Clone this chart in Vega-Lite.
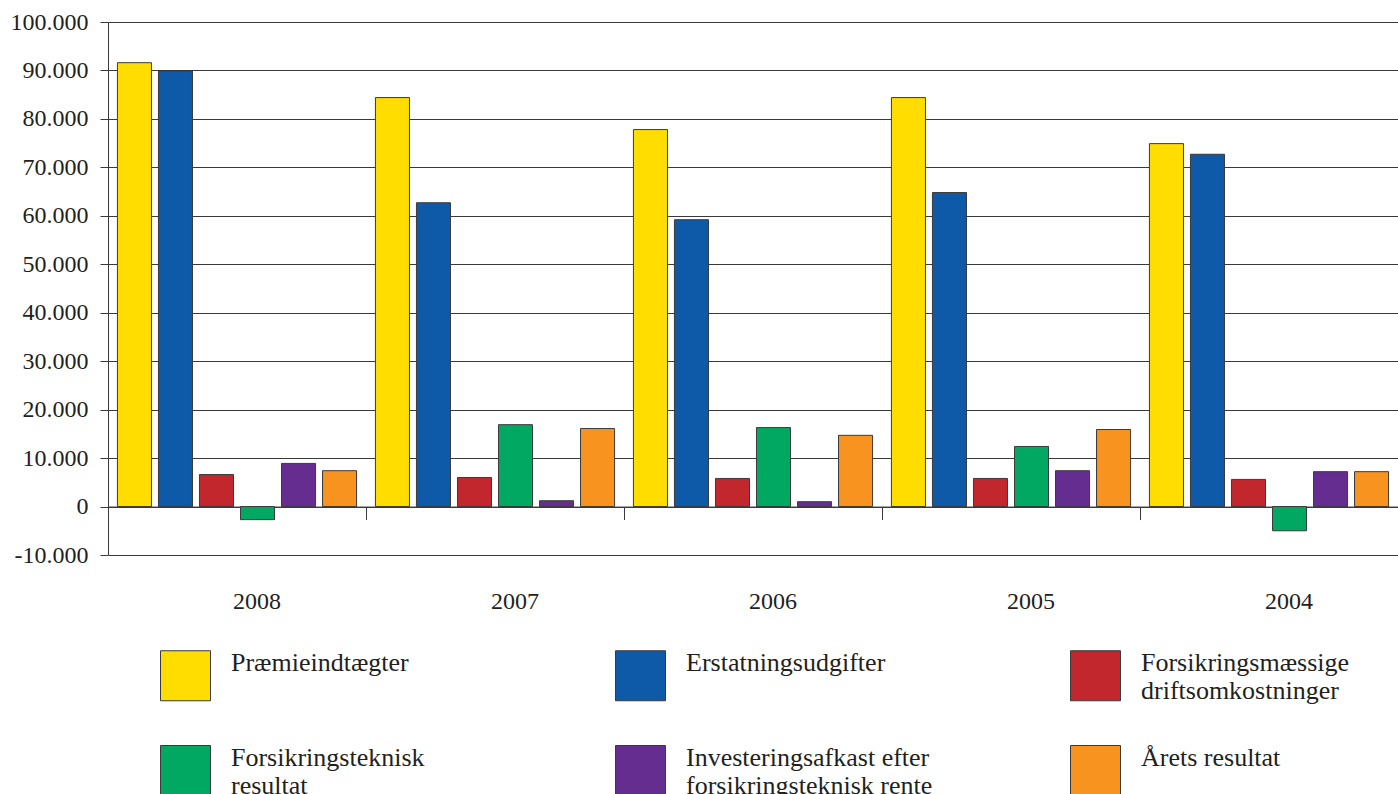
{
  "$schema": "https://vega.github.io/schema/vega-lite/v6.json",
  "width": 1290,
  "height": 533,
  "autosize": {"type": "none"},
  "padding": {"left": 108, "top": 22, "right": 0, "bottom": 239},
  "background": "white",
  "config": {
    "view": {"stroke": null},
    "font": "Liberation Serif",
    "axis": {"labelFont": "Liberation Serif"},
    "legend": {"labelFont": "Liberation Serif"}
  },
  "data": {
    "values": [
      {"year": "2008", "series": "Præmieindtægter", "value": 91600},
      {"year": "2008", "series": "Erstatningsudgifter", "value": 89900},
      {"year": "2008", "series": "Forsikringsmæssige driftsomkostninger", "value": 6600},
      {"year": "2008", "series": "Forsikringsteknisk resultat", "value": -2700},
      {"year": "2008", "series": "Investeringsafkast efter forsikringsteknisk rente", "value": 8900},
      {"year": "2008", "series": "Årets resultat", "value": 7400},
      {"year": "2007", "series": "Præmieindtægter", "value": 84400},
      {"year": "2007", "series": "Erstatningsudgifter", "value": 62700},
      {"year": "2007", "series": "Forsikringsmæssige driftsomkostninger", "value": 6000},
      {"year": "2007", "series": "Forsikringsteknisk resultat", "value": 16900},
      {"year": "2007", "series": "Investeringsafkast efter forsikringsteknisk rente", "value": 1200},
      {"year": "2007", "series": "Årets resultat", "value": 16100},
      {"year": "2006", "series": "Præmieindtægter", "value": 77800},
      {"year": "2006", "series": "Erstatningsudgifter", "value": 59200},
      {"year": "2006", "series": "Forsikringsmæssige driftsomkostninger", "value": 5800},
      {"year": "2006", "series": "Forsikringsteknisk resultat", "value": 16300},
      {"year": "2006", "series": "Investeringsafkast efter forsikringsteknisk rente", "value": 1000},
      {"year": "2006", "series": "Årets resultat", "value": 14700},
      {"year": "2005", "series": "Præmieindtægter", "value": 84400},
      {"year": "2005", "series": "Erstatningsudgifter", "value": 64800},
      {"year": "2005", "series": "Forsikringsmæssige driftsomkostninger", "value": 5800},
      {"year": "2005", "series": "Forsikringsteknisk resultat", "value": 12400},
      {"year": "2005", "series": "Investeringsafkast efter forsikringsteknisk rente", "value": 7400},
      {"year": "2005", "series": "Årets resultat", "value": 15900},
      {"year": "2004", "series": "Præmieindtægter", "value": 74900},
      {"year": "2004", "series": "Erstatningsudgifter", "value": 72700},
      {"year": "2004", "series": "Forsikringsmæssige driftsomkostninger", "value": 5600},
      {"year": "2004", "series": "Forsikringsteknisk resultat", "value": -5000},
      {"year": "2004", "series": "Investeringsafkast efter forsikringsteknisk rente", "value": 7200},
      {"year": "2004", "series": "Årets resultat", "value": 7200}
    ]
  },
  "mark": {"type": "bar", "stroke": "#3a3a3a", "strokeWidth": 1},
  "encoding": {
    "x": {
      "field": "year",
      "type": "nominal",
      "sort": ["2008", "2007", "2006", "2005", "2004"],
      "scale": {"paddingInner": 0, "paddingOuter": 0},
      "axis": {
        "title": null,
        "orient": "bottom",
        "offset": -48.45,
        "bandPosition": 0,
        "tickSize": 13,
        "tickColor": "#3a3a3a",
        "domainColor": "#3a3a3a",
        "labelAngle": 0,
        "labelPadding": 70,
        "labelOffset": 20,
        "labelFontSize": 24,
        "labelColor": "#231f20",
        "labelFont": "Liberation Serif",
        "grid": false
      }
    },
    "xOffset": {
      "field": "series",
      "sort": ["Præmieindtægter", "Erstatningsudgifter", "Forsikringsmæssige driftsomkostninger", "Forsikringsteknisk resultat", "Investeringsafkast efter forsikringsteknisk rente", "Årets resultat"],
      "scale": {"paddingInner": 0.17, "paddingOuter": 0.23}
    },
    "y": {
      "field": "value",
      "type": "quantitative",
      "scale": {"domain": [-10000, 100000], "nice": false, "zero": false},
      "axis": {
        "title": null,
        "values": [-10000, 0, 10000, 20000, 30000, 40000, 50000, 60000, 70000, 80000, 90000, 100000],
        "labelExpr": "replace(replace(format(datum.value, ','), ',', '.'), '\u2212', '-')",
        "grid": true,
        "gridColor": "#3a3a3a",
        "gridOpacity": 1,
        "gridWidth": 1,
        "domainColor": "#3a3a3a",
        "tickColor": "#3a3a3a",
        "tickSize": 8,
        "labelPadding": 12,
        "labelFontSize": 24,
        "labelColor": "#231f20",
        "labelFont": "Liberation Serif"
      }
    },
    "color": {
      "field": "series",
      "type": "nominal",
      "scale": {
        "domain": ["Præmieindtægter", "Erstatningsudgifter", "Forsikringsmæssige driftsomkostninger", "Forsikringsteknisk resultat", "Investeringsafkast efter forsikringsteknisk rente", "Årets resultat"],
        "range": ["#FFDD00", "#0F5AA8", "#C1272D", "#00A862", "#662D91", "#F7931E"]
      },
      "legend": {
        "title": null,
        "orient": "none",
        "legendX": 52,
        "legendY": 628,
        "direction": "horizontal",
        "columns": 3,
        "gridAlign": "all",
        "columnPadding": 135,
        "rowPadding": 39,
        "padding": 0,
        "symbolType": "square",
        "symbolSize": 2500,
        "symbolStrokeColor": "#3a3a3a",
        "symbolStrokeWidth": 1,
        "symbolOpacity": 1,
        "labelFontSize": 26,
        "labelFont": "Liberation Serif",
        "labelColor": "#231f20",
        "labelOffset": 20,
        "labelLimit": 1000,
        "labelBaseline": "bottom",
        "labelExpr": "datum.label == 'Forsikringsmæssige driftsomkostninger' ? ['Forsikringsmæssige', 'driftsomkostninger'] : datum.label == 'Forsikringsteknisk resultat' ? ['Forsikringsteknisk', 'resultat'] : datum.label == 'Investeringsafkast efter forsikringsteknisk rente' ? ['Investeringsafkast efter', 'forsikringsteknisk rente'] : [datum.label, '']"
      }
    }
  }
}
